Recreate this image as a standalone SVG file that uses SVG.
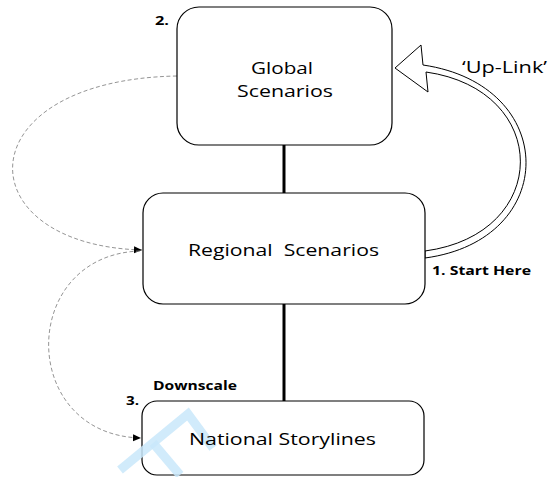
<svg xmlns="http://www.w3.org/2000/svg" width="550" height="477" viewBox="0 0 550 477">
<defs>
<style>
.box{fill:#fff;stroke:#000;stroke-width:1.2}
.lbl{font-family:"Open Sans","Liberation Sans",sans-serif;font-size:17px;fill:#000}
.bold{font-family:"Open Sans","Liberation Sans",sans-serif;font-size:13px;font-weight:bold;fill:#000}
.solid{stroke:#000;stroke-width:3;fill:none}
.dash{stroke:#888;stroke-width:0.9;fill:none;stroke-dasharray:4 2.5}
.wm{stroke:#c9e8fa;stroke-width:9;fill:none;stroke-linecap:butt;opacity:0.85}
</style>
<marker id="ah" markerWidth="9" markerHeight="8" refX="8" refY="4" orient="auto" markerUnits="userSpaceOnUse">
<path d="M0,0.5 L8,4 L0,7.5 Z" fill="#000"/>
</marker>
</defs>
<rect width="550" height="477" fill="#fff"/>
<g id="connectors">
<line class="solid" x1="284" y1="145" x2="284" y2="193"/>
<line class="solid" x1="284" y1="304" x2="284" y2="401"/>
<path class="dash" d="M177,76 C-36,80 -36,245 142,250" marker-end="url(#ah)"/>
<path class="dash" d="M140,251 C18,255 18,435 141,438" marker-end="url(#ah)"/>
<path id="uplink" d="M395,68 L421,45 L423,65 C560,85 560,240 425,258 L425,251 C552,234 552,90 426,72 L428,92 Z" fill="#fff" stroke="#000" stroke-width="1"/>
</g>
<g id="global">
<rect class="box" x="177" y="7" width="215" height="138" rx="22"/>
<text class="lbl" x="251" y="74" textLength="62" lengthAdjust="spacingAndGlyphs">Global</text>
<text class="lbl" x="237" y="97" textLength="96" lengthAdjust="spacingAndGlyphs">Scenarios</text>
</g>
<g id="regional">
<rect class="box" x="143" y="193" width="282" height="111" rx="20"/>
<text class="lbl" x="188" y="256" textLength="191" lengthAdjust="spacingAndGlyphs" xml:space="preserve">Regional  Scenarios</text>
</g>
<g id="national">
<rect class="box" x="142" y="401" width="282" height="74" rx="15"/>
<g id="watermark">
<path class="wm" d="M120,470 L188,414 L213,448"/>
<path class="wm" d="M153,443 L180,475"/>
</g>
<text class="lbl" x="189" y="445" textLength="187" lengthAdjust="spacingAndGlyphs">National Storylines</text>
</g>
<g id="labels">
<text class="lbl" x="462" y="73" textLength="85" lengthAdjust="spacingAndGlyphs">‘Up-Link’</text>
<text class="bold" x="432" y="275" textLength="99" lengthAdjust="spacingAndGlyphs">1. Start Here</text>
<text class="bold" x="155" y="25" textLength="14" lengthAdjust="spacingAndGlyphs">2.</text>
<text class="bold" x="126" y="405" textLength="13" lengthAdjust="spacingAndGlyphs">3.</text>
<text class="bold" x="153" y="390" textLength="84" lengthAdjust="spacingAndGlyphs">Downscale</text>
</g>
</svg>
